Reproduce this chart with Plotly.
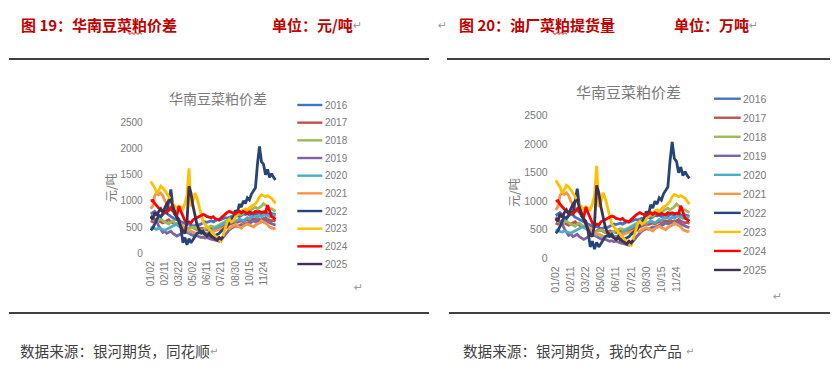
import plotly.graph_objects as go

W, H = 839, 372
PAGE_MARGIN = 8  # the browser's default body margin

# ---------------- data ----------------
DATES = ["01/02", "01/08", "01/14", "01/19", "01/25", "01/31", "02/05", "02/11", "02/17", "02/23",
         "02/28", "03/05", "03/11", "03/16", "03/22", "03/28", "04/03", "04/09", "04/15", "04/21",
         "04/26", "05/02", "05/08", "05/14", "05/19", "05/25", "05/31", "06/05", "06/11", "06/17",
         "06/23", "06/28", "07/04", "07/10", "07/15", "07/21", "07/27", "08/02", "08/07", "08/13",
         "08/19", "08/24", "08/30", "09/05", "09/11", "09/17", "09/23", "09/29", "10/09", "10/15",
         "10/21", "10/27", "11/01", "11/07", "11/13", "11/18", "11/24", "11/30", "12/06", "12/12",
         "12/18", "12/24", "12/30"]
TICK_LABELS = ["01/02", "02/11", "03/22", "05/02", "06/11", "07/21", "08/30", "10/15", "11/24"]
Y_TICKS = [0, 500, 1000, 1500, 2000, 2500]
YEARS = ["2016", "2017", "2018", "2019", "2020", "2021", "2022", "2023", "2024", "2025"]
COLORS = ["#4472C4", "#C0504D", "#9BBB59", "#8064A2", "#4BACC6",
          "#F79646", "#264478", "#FFC000", "#FF0000", "#403151"]

V2016 = [750, 780, 800, 760, 720, 700, 740, 780, 760, 720,
         700, 680, 650, 640, 620, 600, 580, 560, 550, 560,
         540, 520, 530, 550, 540, 560, 580, 600, 590, 610,
         620, 600, 620, 640, 630, 650, 660, 680, 670, 690,
         700, 680, 700, 720, 700, 730, 750, 740, 760, 730,
         750, 770, 740, 760, 780, 750, 770, 800, 760, 740,
         760, 750, 740]
V2017 = [620, 600, 640, 660, 620, 600, 580, 600, 620, 640,
         600, 580, 560, 540, 520, 500, 480, 470, 460, 480,
         500, 490, 470, 450, 460, 480, 470, 460, 450, 470,
         480, 460, 450, 470, 480, 500, 520, 540, 560, 550,
         570, 580, 600, 590, 610, 620, 600, 630, 640, 620,
         650, 660, 640, 670, 650, 640, 660, 680, 650, 640,
         620, 630, 610]
V2018 = [680, 650, 620, 600, 640, 660, 620, 600, 580, 560,
         600, 620, 580, 560, 540, 520, 500, 480, 460, 470,
         480, 500, 480, 470, 460, 440, 450, 470, 480, 500,
         520, 510, 500, 520, 540, 560, 580, 600, 620, 640,
         660, 680, 700, 720, 750, 740, 780, 800, 820, 800,
         840, 860, 880, 850, 870, 900, 950, 920, 880, 860,
         850, 820, 800]
V2019 = [720, 680, 640, 600, 520, 450, 400, 420, 380, 400,
         420, 380, 360, 330, 350, 380, 400, 420, 400, 380,
         360, 340, 350, 330, 320, 300, 310, 290, 300, 280,
         270, 260, 250, 240, 230, 260, 300, 350, 400, 450,
         480, 500, 520, 510, 530, 550, 540, 560, 580, 570,
         600, 620, 600, 610, 630, 600, 620, 640, 600, 580,
         560, 550, 540]
V2020 = [480, 500, 470, 460, 480, 470, 450, 440, 460, 480,
         500, 520, 540, 560, 520, 500, 480, 450, 430, 400,
         420, 400, 380, 370, 390, 400, 410, 390, 380, 400,
         420, 450, 480, 500, 520, 540, 560, 580, 600, 580,
         600, 620, 610, 630, 650, 640, 620, 650, 680, 660,
         700, 720, 700, 690, 720, 700, 730, 740, 720, 700,
         730, 720, 720]
V2021 = [850, 900, 1100, 1150, 1120, 1150, 1100, 1000, 950, 850,
         830, 880, 750, 700, 600, 550, 520, 480, 450, 430,
         420, 400, 380, 370, 400, 420, 380, 360, 350, 380,
         400, 420, 430, 440, 450, 460, 480, 500, 480, 470,
         500, 520, 540, 520, 500, 480, 520, 540, 560, 540,
         520, 500, 540, 560, 580, 620, 600, 580, 550, 500,
         480, 470, 480]
V2022 = [440, 480, 560, 650, 720, 700, 760, 810, 780, 970,
         1220, 900, 780, 690, 650, 480, 200, 300, 160, 280,
         200, 260, 330, 380, 400, 380, 420, 360, 340, 350,
         330, 360, 340, 360, 380, 420, 450, 480, 520, 580,
         650, 700, 820, 760, 940, 880, 1000, 950, 1060, 1020,
         1130, 1190, 1250, 1700, 2040, 1750, 1700, 1500, 1600, 1450,
         1520, 1450, 1400]
V2023 = [1370, 1300, 1250, 1150, 1200, 1280, 1250, 1200, 1150, 1080,
         1000, 950, 880, 850, 900, 880, 850, 950, 1100, 1620,
         900, 1000, 1150, 1050, 900, 700, 600, 550, 500, 450,
         400, 370, 330, 300, 250, 230, 350, 500, 600, 650,
         600, 620, 700, 750, 780, 800, 820, 850, 830, 870,
         900, 920, 950, 1000, 1080, 1120, 1100, 1080, 1100, 1070,
         1050, 1000, 950]
V2024 = [1000, 1010, 950, 900, 860, 820, 800, 780, 790, 820,
         870, 800, 750, 720, 900, 800, 700, 620, 580, 600,
         580, 640, 660, 680, 700, 720, 740, 730, 700, 690,
         680, 700, 660, 650, 640, 680, 720, 750, 780, 800,
         780, 760, 750, 780, 800, 770, 800, 780, 760, 790,
         780, 760, 800, 790, 800, 780, 790, 780, 920, 800,
         700, 680, 650]
V2025 = [700, 650, 780, 720, 800, 850, 780, 880, 950, 1000,
         1020, 900, 750, 680, 600, 500, 420, 380, 600, 1280,
         1150, 900, 700, 550, 450, 420, 380, 350, 330, 380,
         320, 300, 280, 250, 300, 270, 320]

SERIES = [V2016, V2017, V2018, V2019, V2020, V2021, V2022, V2023, V2024, V2025]

CHART_TITLE = "华南豆菜粕价差"
Y_TITLE = "元/吨"


# ---------------- helpers (window pixel -> paper) ----------------
def px(x):
    return (x - PAGE_MARGIN) / W


def py(y):
    return 1 - (y - PAGE_MARGIN) / H


GREY = "#7a7a7a"
RED = "#C00000"
CJK = "Noto Sans CJK SC"
LAT = "Liberation Sans"

panels = [
    # left panel
    dict(xd=(149.7, 276.6), yd=(122.3, 253.3), tick=10, title_xy=(218, 98), title_size=14,
         ytitle_xy=(110, 188), leg_x=(297.3, 322.3), leg_y0=105.0, leg_dy=17.67, leg_size=10,
         ret=(358, 287)),
    # right panel
    dict(xd=(554.6, 690.5), yd=(115.7, 258.3), tick=10.5, title_xy=(628.5, 91.7), title_size=15,
         ytitle_xy=(513, 193), leg_x=(714.0, 740.7), leg_y0=98.7, leg_dy=19.03, leg_size=10.5,
         ret=(777, 296)),
]

fig = go.Figure()
annotations = []
shapes = []

for p_i, P in enumerate(panels):
    xa = "x" if p_i == 0 else "x2"
    ya = "y" if p_i == 0 else "y2"
    for name, color, vals in zip(YEARS, COLORS, SERIES):
        fig.add_trace(go.Scatter(
            x=DATES[:len(vals)], y=vals, name=name, mode="lines",
            line=dict(color=color, width=2.8), xaxis=xa, yaxis=ya,
            showlegend=False, hoverinfo="skip"))

    axis_x = dict(
        type="category", categoryorder="array", categoryarray=DATES,
        range=[-0.5, len(DATES) - 0.5], domain=[px(P["xd"][0]), px(P["xd"][1])],
        tickmode="array", tickvals=TICK_LABELS, ticktext=TICK_LABELS, tickangle=-90,
        showgrid=False, zeroline=False, showline=False, ticks="",
        tickfont=dict(family=LAT, size=P["tick"], color=GREY),
        anchor=ya, ticklabelstandoff=5, automargin=False)
    axis_y = dict(
        range=[0, 2500], domain=[py(P["yd"][1]), py(P["yd"][0])],
        tickmode="array", tickvals=Y_TICKS,
        showgrid=False, zeroline=False, showline=False, ticks="",
        tickfont=dict(family=LAT, size=P["tick"], color=GREY),
        anchor=xa, ticklabelstandoff=6, automargin=False)
    if p_i == 0:
        fig.update_layout(xaxis=axis_x, yaxis=axis_y)
    else:
        fig.update_layout(xaxis2=axis_x, yaxis2=axis_y)

    # chart title
    annotations.append(dict(text=CHART_TITLE, x=px(P["title_xy"][0]), y=py(P["title_xy"][1]),
                            xref="paper", yref="paper", showarrow=False, xanchor="center",
                            yanchor="middle", font=dict(family=CJK, size=P["title_size"], color=GREY)))
    # y-axis title
    annotations.append(dict(text=Y_TITLE, x=px(P["ytitle_xy"][0]), y=py(P["ytitle_xy"][1]),
                            xref="paper", yref="paper", showarrow=False, textangle=-90,
                            xanchor="center", yanchor="middle",
                            font=dict(family=CJK, size=12, color=GREY)))
    # legend (drawn)
    for k, (name, color) in enumerate(zip(YEARS, COLORS)):
        yy = P["leg_y0"] + k * P["leg_dy"]
        shapes.append(dict(type="line", xref="paper", yref="paper",
                           x0=px(P["leg_x"][0]), x1=px(P["leg_x"][1]), y0=py(yy), y1=py(yy),
                           line=dict(color=color, width=2.4)))
        annotations.append(dict(text=name, x=px(P["leg_x"][1] + 0.5), y=py(yy),
                                xref="paper", yref="paper", showarrow=False,
                                xanchor="left", yanchor="middle",
                                font=dict(family=LAT, size=P["leg_size"], color=GREY)))
    annotations.append(dict(text="↵", x=px(P["ret"][0]), y=py(P["ret"][1]), xref="paper",
                            yref="paper", showarrow=False, xanchor="center", yanchor="middle",
                            font=dict(family="DejaVu Sans", size=11, color="#9a9a9a")))

# ---------------- document text ----------------
def txt(t, x, y, size, color, anchor="left", bold=False, family=CJK):
    s = "<b>" + t + "</b>" if bold else t
    annotations.append(dict(text=s, x=px(x), y=py(y), xref="paper", yref="paper",
                            showarrow=False, xanchor=anchor, yanchor="middle",
                            font=dict(family=family, size=size, color=color)))


txt("图 19：华南豆菜粕价差", 19, 25, 15, RED, bold=True)
txt("单位：元/吨", 270, 25, 15, RED, bold=True)
txt("↵", 351, 26, 11, "#9a9a9a", family="DejaVu Sans")
txt("↵", 436, 26, 11, "#9a9a9a", family="DejaVu Sans")
txt("图 20：油厂菜粕提货量", 456.5, 25, 15, RED, bold=True)
txt("单位：万吨", 672, 25, 15, RED, bold=True)
txt("↵", 747, 26, 11, "#9a9a9a", family="DejaVu Sans")

txt("数据来源：银河期货，同花顺", 18, 350, 14.6, "#404040")
txt("↵", 208, 351, 10, "#9a9a9a", family="DejaVu Sans")
txt("数据来源：银河期货，我的农产品", 461, 350, 14.6, "#404040")
txt("↵", 684, 351, 10, "#9a9a9a", family="DejaVu Sans")

# horizontal rules
for (x0, x1, y) in [(9, 429, 59), (447, 830, 59), (9, 429, 313), (449, 830, 313)]:
    shapes.append(dict(type="line", xref="paper", yref="paper", x0=px(x0), x1=px(x1),
                       y0=py(y), y1=py(y), line=dict(color="#000000", width=1.3)))


# wavy spell-check underline
def wavy(x0, x1, y):
    pts = []
    x = x0
    up = True
    while x <= x1:
        pts.append((x, y - 0.9 if up else y + 0.9))
        up = not up
        x += 2
    d = "M " + " L ".join("%.5f,%.5f" % (px(a), py(b)) for a, b in pts)
    return dict(type="path", xref="paper", yref="paper", path=d,
                line=dict(color="#D00000", width=0.9))


shapes.append(wavy(128, 143, 33.5))
shapes.append(wavy(553, 567, 33.5))

fig.update_layout(
    template="none",
    width=W, height=H, margin=dict(l=0, r=0, t=0, b=0, pad=0, autoexpand=False),
    paper_bgcolor="white", plot_bgcolor="white",
    showlegend=False, annotations=annotations, shapes=shapes)

fig.write_html("out.html")
